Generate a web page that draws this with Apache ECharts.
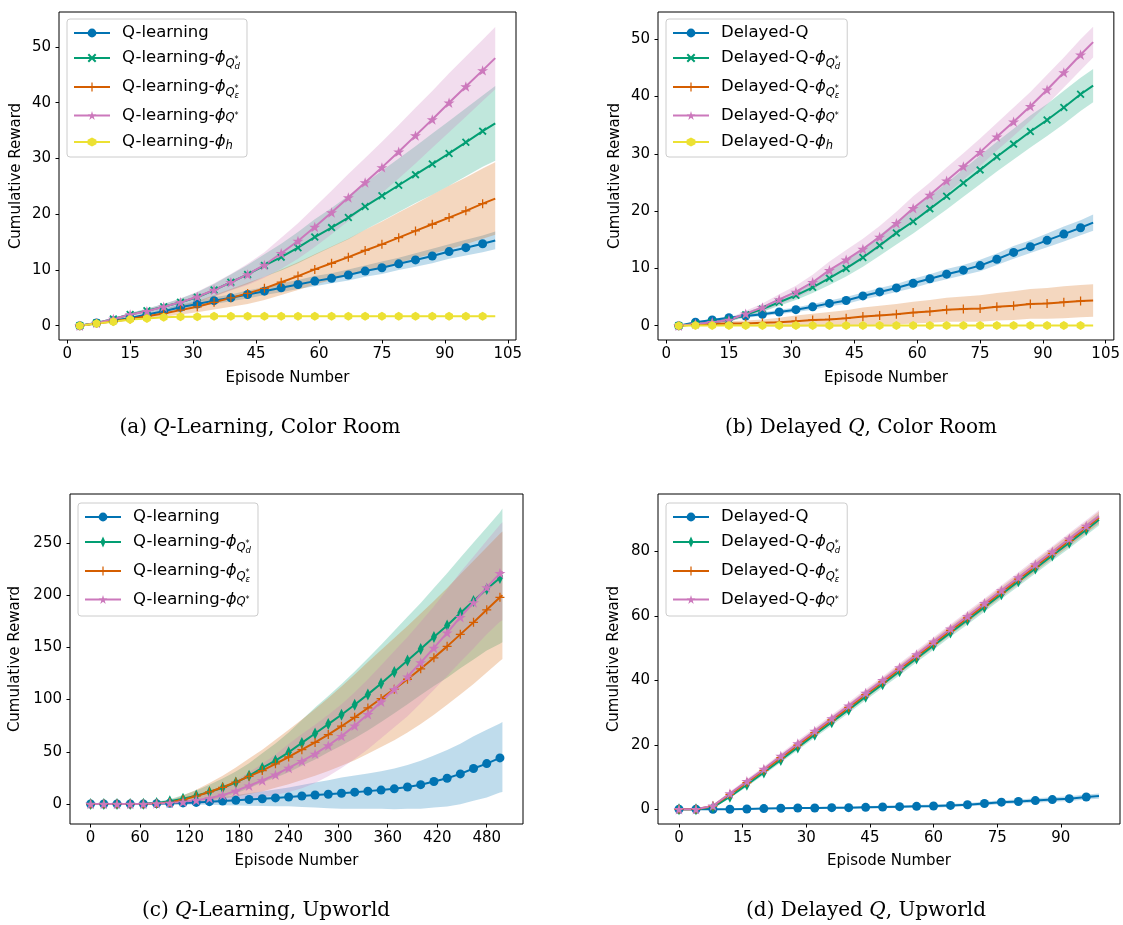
<!DOCTYPE html>
<html>
<head>
<meta charset="utf-8">
<title>Cumulative reward curves</title>
<script src="https://cdn.jsdelivr.net/npm/echarts@6/dist/echarts.min.js"></script>
<style>
  html, body { margin: 0; padding: 0; background: #fff; }
  #chart { width: 1123px; height: 925px; }
</style>
</head>
<body>
<div id="chart"></div>
<script>
// ---------- Episode positions (marker positions, last entry = final episode) ----------
const episodesColorRoom = [3,7,11,15,19,23,27,31,35,39,43,47,51,55,59,63,67,71,75,79,83,87,91,95,99,102];
const episodesUpworldQ = [0,16,32,48,64,80,96,112,128,144,160,176,192,208,224,240,256,272,288,304,320,336,352,368,384,400,416,432,448,464,480,496,499];
const episodesUpworldDelayed = [0,4,8,12,16,20,24,28,32,36,40,44,48,52,56,60,64,68,72,76,80,84,88,92,96,99];

// ---------- (a) Q-learning, Color Room: mean and std of cumulative reward ----------
const crQ_mean      = [0,0.5,0.9,1.4,2.0,2.6,3.3,3.9,4.5,5.0,5.6,6.2,6.8,7.4,8.0,8.5,9.1,9.8,10.4,11.1,11.8,12.5,13.3,14.0,14.7,15.3];
const crQ_std       = [0,0.05,0.1,0.2,0.3,0.4,0.5,0.5,0.6,0.6,0.7,0.7,0.8,0.8,0.9,0.9,1.0,1.0,1.1,1.1,1.2,1.3,1.3,1.4,1.5,1.6];
const crQd_mean     = [0,0.5,1.2,2.0,2.7,3.4,4.2,5.1,6.4,7.8,9.2,10.8,12.3,14.0,15.9,17.6,19.4,21.4,23.3,25.2,27.1,29.0,30.9,32.9,34.9,36.3];
const crQd_std      = [0,0.1,0.2,0.3,0.4,0.5,0.7,0.9,1.1,1.4,1.7,2.0,2.4,2.8,3.2,3.5,3.9,4.2,4.5,4.8,5.1,5.5,5.8,6.1,6.4,6.7];
const crQe_mean     = [0,0.4,0.8,1.2,1.7,2.2,2.8,3.4,4.2,5.0,5.8,6.7,7.8,8.9,10.1,11.2,12.3,13.5,14.6,15.8,17.0,18.2,19.4,20.6,21.9,22.8];
const crQe_std      = [0,0.1,0.2,0.3,0.4,0.6,0.8,1.0,1.3,1.6,1.9,2.1,2.3,2.5,2.7,3.0,3.3,3.7,4.1,4.5,4.9,5.3,5.7,6.0,6.3,6.5];
const crQstar_mean  = [0,0.5,1.2,2.0,2.6,3.4,4.2,5.2,6.4,7.8,9.2,10.9,13.0,15.2,17.7,20.3,23.0,25.7,28.4,31.2,34.1,37.0,40.0,42.9,45.8,48.0];
const crQstar_std   = [0,0.1,0.2,0.3,0.4,0.5,0.7,0.9,1.2,1.5,1.9,2.3,2.8,3.2,3.6,3.9,4.2,4.4,4.6,4.8,5.0,5.1,5.3,5.4,5.5,5.6];
const crQh_mean     = [0,0.4,0.7,1.1,1.3,1.5,1.6,1.6,1.7,1.7,1.7,1.7,1.7,1.7,1.7,1.7,1.7,1.7,1.7,1.7,1.7,1.7,1.7,1.7,1.7,1.7];
const crQh_std      = [0,0.05,0.1,0.1,0.1,0.1,0.1,0.1,0.1,0.1,0.1,0.1,0.1,0.1,0.1,0.1,0.1,0.1,0.1,0.1,0.1,0.1,0.1,0.1,0.1,0.1];

// ---------- (b) Delayed Q, Color Room ----------
const crD_mean      = [0,0.6,1.0,1.4,1.7,2.0,2.4,2.8,3.3,3.9,4.4,5.2,5.9,6.6,7.4,8.2,9.0,9.7,10.5,11.6,12.8,13.8,14.9,16.0,17.1,18.0];
const crD_std       = [0,0.1,0.2,0.2,0.3,0.3,0.4,0.4,0.5,0.5,0.6,0.6,0.7,0.7,0.8,0.8,0.9,0.9,1.0,1.0,1.1,1.1,1.2,1.3,1.3,1.4];
const crDd_mean     = [0,0.3,0.6,1.0,1.9,2.9,4.1,5.3,6.7,8.3,10.0,11.9,14.0,16.2,18.2,20.4,22.6,24.9,27.2,29.5,31.7,33.9,35.9,38.1,40.4,41.9];
const crDd_std      = [0,0.1,0.2,0.3,0.4,0.5,0.6,0.8,1.0,1.2,1.4,1.6,1.8,2.0,2.1,2.2,2.3,2.4,2.5,2.6,2.7,2.8,2.8,2.9,2.9,2.9];
const crDe_mean     = [0,0.2,0.3,0.4,0.4,0.5,0.6,0.8,1.0,1.1,1.3,1.6,1.8,2.0,2.3,2.5,2.8,2.9,3.0,3.3,3.5,3.8,3.9,4.1,4.3,4.4];
const crDe_std      = [0,0.2,0.3,0.4,0.5,0.6,0.8,1.0,1.1,1.3,1.4,1.6,1.7,1.8,1.9,2.0,2.1,2.2,2.3,2.4,2.5,2.6,2.7,2.8,2.8,2.85];
const crDstar_mean  = [0,0.3,0.6,1.0,2.1,3.2,4.6,5.9,7.6,9.7,11.5,13.4,15.5,17.9,20.5,22.8,25.3,27.8,30.3,33.0,35.6,38.3,41.2,44.2,47.3,49.5];
const crDstar_std   = [0,0.1,0.2,0.3,0.5,0.7,0.9,1.1,1.3,1.5,1.7,1.8,1.9,2.0,2.1,2.2,2.3,2.3,2.4,2.4,2.5,2.5,2.6,2.6,2.7,2.7];
const crDh_mean     = [0,0.05,0.05,0.05,0.05,0.05,0.05,0.05,0.05,0.05,0.05,0.05,0.05,0.05,0.05,0.05,0.05,0.05,0.05,0.05,0.05,0.05,0.05,0.05,0.05,0.05];
const crDh_std      = [0,0.05,0.05,0.05,0.05,0.05,0.05,0.05,0.05,0.05,0.05,0.05,0.05,0.05,0.05,0.05,0.05,0.05,0.05,0.05,0.05,0.05,0.05,0.05,0.05,0.05];

// ---------- (c) Q-learning, Upworld ----------
const uwQ_mean      = [0,0,0,0,0,0.3,0.6,1.0,1.5,2.2,2.8,3.5,4.3,5.0,5.8,6.7,7.6,8.6,9.3,10.3,11.3,12.3,13.3,14.5,16.3,18.5,21.5,24.6,28.8,34.0,38.7,44.1,45.0];
const uwQ_std       = [0,0,0,0,0.2,0.5,1,1.5,2.2,3,4,5,6,7,8,9,10.5,12,13.5,15,16,17,18,19.5,21,23,25,27,29,31,32.5,33,33.5];
const uwQd_mean     = [0,0,0,0,0.3,1.0,2.5,5,8,11.5,15.5,20.5,27,34.5,41.5,49.5,58.5,67.5,76.5,85.5,95,105,115.5,126.5,137.5,148.5,160,171,183,194.5,206,216.5,219];
const uwQd_std      = [0,0,0,0,0.3,1,2,3.5,5,7,9,10.5,12,14,16.5,19,22,25,27,29.5,32,34.5,37,39.5,42,44,47,50,53,56,59,63,64];
const uwQe_mean     = [0,0,0,0,0,0.5,1.5,4,7.5,11.5,16,21,26.5,32,38.5,45,52,59,66.5,74.5,83,92,101,110,119.5,129.5,140,151,162.5,174,186,198,200];
const uwQe_std      = [0,0,0,0,0,1,2,4,6,8.5,11,14,17,20,23,26,29,32,35,38,41,44,46.5,49,51,53,54.5,56,57.5,59,60,61,61];
const uwQstar_mean  = [0,0,0,0,0,0.5,1,2,3.5,5.5,8.5,12.5,17.5,22.5,28,34.5,41,48,56,65,75,86,98,110,122,135.5,149.5,164,179,193,207.5,221,223];
const uwQstar_std   = [0,0,0,0,0,0.5,1,2,3,5,7,10,13,16,19.5,23,26,28,29.5,30.5,32,33.5,35,36.5,38,39,40,41.5,43,44,45,46.5,47];

// ---------- (d) Delayed Q, Upworld ----------
const uwD_mean      = [0,0,0,0,0.1,0.2,0.3,0.4,0.4,0.5,0.5,0.6,0.7,0.8,0.9,1.0,1.2,1.4,1.8,2.2,2.4,2.7,3.0,3.3,3.8,4.1];
const uwD_std       = [0,0.1,0.1,0.1,0.2,0.2,0.2,0.3,0.3,0.3,0.3,0.4,0.4,0.4,0.4,0.5,0.5,0.5,0.6,0.6,0.6,0.7,0.7,0.7,0.8,0.8];
const uwDd_mean     = [0,0,0.6,3.9,7.6,11.4,15.3,19.2,23.1,27.0,30.9,34.9,38.8,42.8,46.8,50.8,54.8,58.7,62.7,66.7,70.7,74.7,78.7,82.7,86.7,89.8];
const uwDd_std      = [0,0,0.3,0.5,0.6,0.7,0.8,0.9,0.9,1.0,1.0,1.1,1.1,1.2,1.2,1.3,1.3,1.4,1.4,1.5,1.5,1.6,1.6,1.7,1.7,1.8];
const uwDe_mean     = [0,0,1.0,4.6,8.3,12.1,16.0,19.9,23.8,27.7,31.6,35.6,39.5,43.5,47.5,51.5,55.5,59.4,63.4,67.4,71.4,75.4,79.4,83.4,87.4,90.5];
const uwDe_std      = [0,0,0.3,0.6,0.7,0.8,0.9,1.0,1.0,1.1,1.1,1.2,1.2,1.3,1.3,1.4,1.4,1.5,1.5,1.6,1.6,1.7,1.7,1.8,1.8,1.9];
const uwDstar_mean  = [0,0,1.1,4.9,8.7,12.5,16.5,20.4,24.3,28.2,32.1,36.1,40.0,44.0,48.0,52.0,56.0,59.9,63.9,67.9,71.9,75.9,79.9,83.9,87.9,90.9];
const uwDstar_std   = [0,0,0.3,0.6,0.7,0.8,0.9,1.0,1.0,1.1,1.1,1.2,1.2,1.3,1.3,1.4,1.4,1.5,1.5,1.6,1.6,1.7,1.7,1.8,1.8,1.9];

// ---------- Axis tick labels ----------
const ticksColorRoomX = [0,15,30,45,60,75,90,105];
const ticksCrQY = [0,10,20,30,40,50];
const ticksCrDY = [0,10,20,30,40,50];
const ticksUwQX = [0,60,120,180,240,300,360,420,480];
const ticksUwQY = [0,50,100,150,200,250];
const ticksUwDX = [0,15,30,45,60,75,90];
const ticksUwDY = [0,20,40,60,80];

// ---------- Styling ----------
const FONT = 'DejaVu Sans';
const SERIF = 'DejaVu Serif';
const C = { blue:'#0173b2', green:'#029e73', orange:'#d55e00', pink:'#cc78bc', yellow:'#ece133' };
const BAND_ALPHA = 0.25;

const SYM = {
  circle: 'circle',
  cross: 'path://M1.6,0L5,3.4L8.4,0L10,1.6L6.6,5L10,8.4L8.4,10L5,6.6L1.6,10L0,8.4L3.4,5L0,1.6Z',
  plus: 'path://M4.3,0H5.7V4.3H10V5.7H5.7V10H4.3V5.7H0V4.3H4.3Z',
  star: 'path://M10,0L12.245,6.91L19.511,6.91L13.633,11.18L15.878,18.09L10,13.82L4.122,18.09L6.367,11.18L0.489,6.91L7.755,6.91Z',
  hexagon: 'path://M10,0L18.66,5L18.66,15L10,20L1.34,15L1.34,5Z',
  thinDiamond: 'path://M2.5,0L5,5L2.5,10L0,5Z'
};
// legend handle: line with a thin diamond in the middle
const LEGEND_THIN_DIAMOND = 'path://M0,4.5H15.95L18,0L20.05,4.5H36V6.5H20.05L18,11L15.95,6.5H0Z';

const grids = [
  { left: 59,  top: 12,  width: 457, height: 328 },
  { left: 658, top: 12,  width: 457, height: 328 },
  { left: 70,  top: 494, width: 453, height: 330 },
  { left: 658, top: 494, width: 462, height: 330 }
];

function hexToRgba(hex, a) {
  const n = parseInt(hex.slice(1), 16);
  return 'rgba(' + ((n >> 16) & 255) + ',' + ((n >> 8) & 255) + ',' + (n & 255) + ',' + a + ')';
}

function axisLabelStyle(values, margin) {
  return { customValues: values, color: '#000', fontFamily: FONT, fontSize: 15, margin: margin };
}
function xAxisDef(gi, min, max, ticks, nameGap) {
  return {
    type: 'value', gridIndex: gi, min, max,
    name: 'Episode Number', nameLocation: 'middle', nameGap,
    nameTextStyle: { fontFamily: FONT, fontSize: 15, color: '#000' },
    axisLine: { show: false, onZero: false },
    axisTick: { show: true, customValues: ticks, length: 3.5, lineStyle: { color: '#000', width: 1 } },
    axisLabel: axisLabelStyle(ticks, 7),
    splitLine: { show: false }
  };
}
function yAxisDef(gi, min, max, ticks, nameGap) {
  return {
    type: 'value', gridIndex: gi, min, max,
    name: 'Cumulative Reward', nameLocation: 'middle', nameGap,
    nameTextStyle: { fontFamily: FONT, fontSize: 15, color: '#000' },
    axisLine: { show: false, onZero: false },
    axisTick: { show: true, customValues: ticks, length: 3.5, lineStyle: { color: '#000', width: 1 } },
    axisLabel: axisLabelStyle(ticks, 8),
    splitLine: { show: false }
  };
}

const bandQueue = [];
const lineQueue = [];

// Shaded mean ± std band: one polygon built through the axis scales.
function bandSeries(gi, key, xs, mean, std, color) {
  const rows = xs.map((x, i) => [x, mean[i] - std[i], mean[i] + std[i]]);
  return {
    type: 'custom', name: key + ':band', xAxisIndex: gi, yAxisIndex: gi,
    data: rows, encode: { x: 0, y: [1, 2] }, clip: true, silent: true, animation: false, z: 1,
    renderItem: function (params, api) {
      if (params.dataIndex !== 0) return null;
      const upper = rows.map(r => api.coord([r[0], r[2]]));
      const lower = rows.map(r => api.coord([r[0], r[1]])).reverse();
      return { type: 'polygon', shape: { points: upper.concat(lower) },
               style: { fill: hexToRgba(color, BAND_ALPHA), stroke: null }, silent: true };
    }
  };
}

function addCurve(gi, key, xs, mean, std, color, symbol, size) {
  bandQueue.push(bandSeries(gi, key, xs, mean, std, color));
  lineQueue.push({
    type: 'line', name: key, xAxisIndex: gi, yAxisIndex: gi,
    data: xs.map((x, i) => i === xs.length - 1 ? { value: [x, mean[i]], symbol: 'none' } : [x, mean[i]]),
    symbol: symbol, symbolSize: size, symbolKeepAspect: true, showSymbol: true,
    lineStyle: { width: 2, color: color }, itemStyle: { color: color, borderWidth: 0 },
    silent: true, animation: false, emphasis: { disabled: true }, z: 3
  });
}

// (a)
addCurve(0, 'a0', episodesColorRoom, crQ_mean, crQ_std, C.blue, SYM.circle, 9);
addCurve(0, 'a1', episodesColorRoom, crQd_mean, crQd_std, C.green, SYM.cross, 8);
addCurve(0, 'a2', episodesColorRoom, crQe_mean, crQe_std, C.orange, SYM.plus, 9);
addCurve(0, 'a3', episodesColorRoom, crQstar_mean, crQstar_std, C.pink, SYM.star, 11);
addCurve(0, 'a4', episodesColorRoom, crQh_mean, crQh_std, C.yellow, SYM.hexagon, 9);
// (b)
addCurve(1, 'b0', episodesColorRoom, crD_mean, crD_std, C.blue, SYM.circle, 9);
addCurve(1, 'b1', episodesColorRoom, crDd_mean, crDd_std, C.green, SYM.cross, 8);
addCurve(1, 'b2', episodesColorRoom, crDe_mean, crDe_std, C.orange, SYM.plus, 9);
addCurve(1, 'b3', episodesColorRoom, crDstar_mean, crDstar_std, C.pink, SYM.star, 11);
addCurve(1, 'b4', episodesColorRoom, crDh_mean, crDh_std, C.yellow, SYM.hexagon, 9);
// (c)
addCurve(2, 'c0', episodesUpworldQ, uwQ_mean, uwQ_std, C.blue, SYM.circle, 9);
addCurve(2, 'c1', episodesUpworldQ, uwQd_mean, uwQd_std, C.green, SYM.thinDiamond, 12);
addCurve(2, 'c2', episodesUpworldQ, uwQe_mean, uwQe_std, C.orange, SYM.plus, 9);
addCurve(2, 'c3', episodesUpworldQ, uwQstar_mean, uwQstar_std, C.pink, SYM.star, 11);
// (d)
addCurve(3, 'd0', episodesUpworldDelayed, uwD_mean, uwD_std, C.blue, SYM.circle, 9);
addCurve(3, 'd1', episodesUpworldDelayed, uwDd_mean, uwDd_std, C.green, SYM.thinDiamond, 12);
addCurve(3, 'd2', episodesUpworldDelayed, uwDe_mean, uwDe_std, C.orange, SYM.plus, 9);
addCurve(3, 'd3', episodesUpworldDelayed, uwDstar_mean, uwDstar_std, C.pink, SYM.star, 11);

const series = bandQueue.concat(lineQueue);

// ---------- Legend labels (rich text with math subscripts) ----------
const LF = 16.5;
const richLegend = {
  b18: { fontFamily: FONT, fontSize: LF, color: '#000', lineHeight: 18, padding: [0, 0, 0, 7] },
  b22: { fontFamily: FONT, fontSize: LF, color: '#000', lineHeight: 22, padding: [0, 0, 0, 7] },
  b25: { fontFamily: FONT, fontSize: LF, color: '#000', lineHeight: 25, padding: [0, 0, 0, 7] },
  b26: { fontFamily: FONT, fontSize: LF, color: '#000', lineHeight: 26, padding: [0, 0, 0, 7] },
  ph:  { fontFamily: FONT, fontSize: LF, fontStyle: 'italic', color: '#000', lineHeight: 10 },
  sQ:  { fontFamily: FONT, fontSize: 11.5, fontStyle: 'italic', color: '#000', lineHeight: 10, padding: [13, 0, 0, 0] },
  st:  { fontFamily: FONT, fontSize: 8, color: '#000', lineHeight: 10, width: 0, padding: [4, 0, 0, 0] },
  sd:  { fontFamily: FONT, fontSize: 8.5, fontStyle: 'italic', color: '#000', lineHeight: 10, padding: [17, 0, 0, 0] },
  sQ2: { fontFamily: FONT, fontSize: 11.5, fontStyle: 'italic', color: '#000', lineHeight: 10, padding: [5, 0, 0, 0] },
  st2: { fontFamily: FONT, fontSize: 8, color: '#000', lineHeight: 10, padding: [1, 0, 0, 0] },
  sh:  { fontFamily: FONT, fontSize: 11.5, fontStyle: 'italic', color: '#000', lineHeight: 10, padding: [8, 0, 0, 0] }
};
function legendLabel(prefix, kind) {
  switch (kind) {
    case 'plain': return '{b18|' + prefix + '}';
    case 'Qd':    return '{b26|' + prefix + '-}{ph|ϕ}{sQ|Q}{st|*}{sd|d}';
    case 'Qe':    return '{b26|' + prefix + '-}{ph|ϕ}{sQ|Q}{st|*}{sd|ε}';
    case 'Qs':    return '{b25|' + prefix + '-}{ph|ϕ}{sQ2|Q}{st2|*}';
    case 'h':     return '{b22|' + prefix + '-}{ph|ϕ}{sh|h}';
  }
}
const legendText = {
  a0: legendLabel('Q-learning', 'plain'), a1: legendLabel('Q-learning', 'Qd'), a2: legendLabel('Q-learning', 'Qe'),
  a3: legendLabel('Q-learning', 'Qs'), a4: legendLabel('Q-learning', 'h'),
  b0: legendLabel('Delayed-Q', 'plain'), b1: legendLabel('Delayed-Q', 'Qd'), b2: legendLabel('Delayed-Q', 'Qe'),
  b3: legendLabel('Delayed-Q', 'Qs'), b4: legendLabel('Delayed-Q', 'h'),
  c0: legendLabel('Q-learning', 'plain'), c1: legendLabel('Q-learning', 'Qd'), c2: legendLabel('Q-learning', 'Qe'),
  c3: legendLabel('Q-learning', 'Qs'),
  d0: legendLabel('Delayed-Q', 'plain'), d1: legendLabel('Delayed-Q', 'Qd'), d2: legendLabel('Delayed-Q', 'Qe'),
  d3: legendLabel('Delayed-Q', 'Qs')
};
function legendDef(left, top, names) {
  return {
    orient: 'vertical', left, top,
    data: names.map(n => (n === 'c1' || n === 'd1') ? { name: n, icon: LEGEND_THIN_DIAMOND } : { name: n }),
    itemWidth: 36, itemHeight: 11, itemGap: 3,
    padding: [5, 7, 4, 6],
    backgroundColor: 'rgba(255,255,255,0.8)', borderColor: '#cccccc', borderWidth: 1, borderRadius: 3,
    selectedMode: false,
    formatter: name => legendText[name],
    // outer lineHeight makes each entry's box span its full line height
    textStyle: { lineHeight: 18, rich: richLegend }
  };
}

// ---------- Sub-figure captions ----------
const richCaption = {
  n: { fontFamily: SERIF, fontSize: 20, fontWeight: 'normal', color: '#000' },
  i: { fontFamily: SERIF, fontSize: 20, fontWeight: 'normal', fontStyle: 'italic', color: '#000' }
};
function captionDef(text, left, top) {
  return { text, left, top, textAlign: 'center', padding: 0,
           textStyle: { fontWeight: 'normal', fontFamily: SERIF, fontSize: 20, rich: richCaption } };
}

const option = {
  backgroundColor: '#ffffff',
  animation: false,
  title: [
    captionDef('{n|(a) }{i|Q}{n|-Learning, Color Room}', 260, 418),
    captionDef('{n|(b) Delayed }{i|Q}{n|, Color Room}', 861, 418),
    captionDef('{n|(c) }{i|Q}{n|-Learning, Upworld}', 266, 901),
    captionDef('{n|(d) Delayed }{i|Q}{n|, Upworld}', 866, 901)
  ],
  grid: grids.map(g => Object.assign({ show: true, borderColor: '#000', borderWidth: 1, backgroundColor: 'transparent' }, g)),
  xAxis: [
    xAxisDef(0, -1.95, 106.95, ticksColorRoomX, 31),
    xAxisDef(1, -1.95, 106.95, ticksColorRoomX, 31),
    xAxisDef(2, -24.95, 523.95, ticksUwQX, 30),
    xAxisDef(3, -4.95, 103.95, ticksUwDX, 30)
  ],
  yAxis: [
    yAxisDef(0, -2.56, 56.27, ticksCrQY, 35),
    yAxisDef(1, -2.49, 54.76, ticksCrDY, 35),
    yAxisDef(2, -19.2, 297, ticksUwQY, 47),
    yAxisDef(3, -4.57, 97.8, ticksUwDY, 36)
  ],
  legend: [
    legendDef(67, 19, ['a0','a1','a2','a3','a4']),
    legendDef(666, 19, ['b0','b1','b2','b3','b4']),
    legendDef(78, 503, ['c0','c1','c2','c3']),
    legendDef(666, 503, ['d0','d1','d2','d3'])
  ],
  series: series
};

const chart = echarts.init(document.getElementById('chart'), null, { renderer: 'canvas' });
chart.setOption(option);
</script>
</body>
</html>
